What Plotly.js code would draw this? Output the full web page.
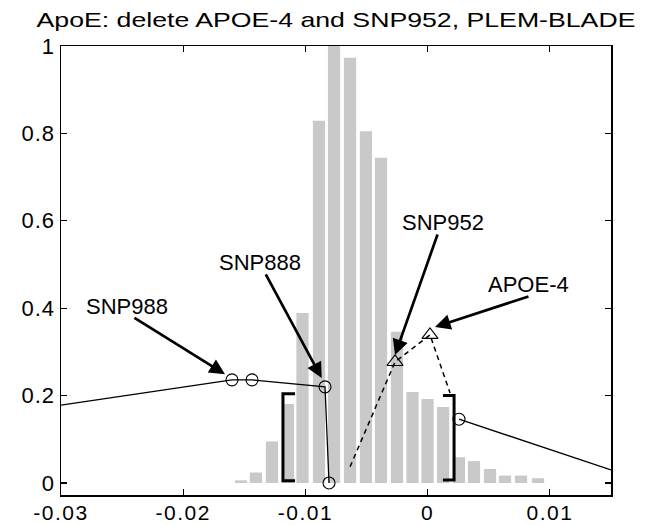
<!DOCTYPE html>
<html>
<head>
<meta charset="utf-8">
<script src="https://cdn.plot.ly/plotly-3.0.1.min.js"></script>
<style>
  html, body { margin: 0; padding: 0; background: #ffffff; }
  #chart { width: 646px; height: 525px; }
  #chart .gtitle {
    transform-box: fill-box;
    transform-origin: center;
    transform: scaleX(1.27);
  }
  #chart .xtick text { letter-spacing: 1.5px; }
  #chart .ytick text { letter-spacing: 1px; }
</style>
</head>
<body>
<div id="chart"></div>
<script>
// ---- data ----
const chartTitle = 'ApoE: delete APOE-4 and SNP952, PLEM-BLADE';

// histogram bins (centre, relative height)
const binCenters = [-0.01527, -0.01405, -0.01274, -0.01143, -0.01024, -0.00889, -0.00766, -0.00635,
                    -0.00505, -0.00382, -0.00251, -0.00124, -0.00001, 0.00126, 0.00256, 0.00379,
                    0.00510, 0.00633, 0.00764, 0.00903];
const binHeights = [0.006, 0.024, 0.095, 0.181, 0.389, 0.829, 1.0, 0.973,
                    0.805, 0.744, 0.346, 0.208, 0.192, 0.174, 0.059, 0.050,
                    0.032, 0.017, 0.017, 0.011];

// solid line on the left (SNP988 / SNP888 path)
const leftLineX = [-0.03, -0.01601, -0.01437, -0.00840, -0.00807];
const leftLineY = [0.178, 0.236, 0.236, 0.220, 0.0];
// circle markers on that line
const leftCircleX = [-0.01601, -0.01437, -0.00840, -0.00807];
const leftCircleY = [0.236, 0.236, 0.220, 0.0];

// solid line on the right
const rightLineX = [0.00256, 0.015];
const rightLineY = [0.146, 0.030];
const rightCircleX = [0.00256];
const rightCircleY = [0.146];

// dashed line (SNP952 / APOE-4 path)
const dashLineX = [-0.00635, -0.00267, 0.00019, 0.00183];
const dashLineY = [0.037, 0.277, 0.339, 0.206];
const triangleX = [-0.00267, 0.00019];
const triangleY = [0.277, 0.339];

// brackets
const leftBracketX = [-0.01085, -0.01184, -0.01184, -0.01085];
const leftBracketY = [0.204, 0.204, 0.005, 0.005];
const rightBracketX = [0.00125, 0.00216, 0.00216, 0.00125];
const rightBracketY = [0.200, 0.200, 0.007, 0.007];

// labels and arrows
const labelText = ['SNP988', 'SNP888', 'SNP952', 'APOE-4'];
const labelX = [-0.02464, -0.01368, 0.00126, 0.00825];
const labelY = [0.405, 0.505, 0.597, 0.455];
const arrowTailX = [-0.02411, -0.01331, 0.00085, 0.00837];
const arrowTailY = [0.380, 0.481, 0.572, 0.428];
const arrowHeadX = [-0.01658, -0.00867, -0.00267, 0.00060];
const arrowHeadY = [0.249, 0.240, 0.293, 0.357];

// axis ticks
const xTickVals = [-0.03, -0.02, -0.01, 0, 0.01];
const xTickText = ['-0.03', '-0.02', '-0.01', '0', '0.01'];
const yTickVals = [0, 0.2, 0.4, 0.6, 0.8, 1];
const yTickText = ['0', '0.2', '0.4', '0.6', '0.8', '1'];

// ---- build chart ----
const FONT = 'Liberation Sans, Arial, Helvetica, sans-serif';

const traces = [
  {
    type: 'bar', x: binCenters, y: binHeights, width: 0.001,
    marker: { color: '#c9c9c9', line: { width: 0 } },
    hoverinfo: 'skip'
  },
  {
    type: 'scatter', mode: 'lines', x: leftLineX, y: leftLineY,
    line: { color: '#000000', width: 1.3 }
  },
  {
    type: 'scatter', mode: 'markers', x: leftCircleX, y: leftCircleY,
    marker: { symbol: 'circle-open', size: 12, color: '#000000', line: { width: 1.1 } }
  },
  {
    type: 'scatter', mode: 'lines', x: rightLineX, y: rightLineY,
    line: { color: '#000000', width: 1.3 }
  },
  {
    type: 'scatter', mode: 'markers', x: rightCircleX, y: rightCircleY,
    marker: { symbol: 'circle-open', size: 12, color: '#000000', line: { width: 1.1 } }
  },
  {
    type: 'scatter', mode: 'lines', x: dashLineX, y: dashLineY,
    line: { color: '#000000', width: 1.5, dash: '5px,4px' }
  },
  {
    type: 'scatter', mode: 'markers', x: triangleX, y: triangleY,
    marker: { symbol: 'triangle-up-open', size: 14, color: '#000000', line: { width: 1.1 } }
  },
  {
    type: 'scatter', mode: 'lines', x: leftBracketX, y: leftBracketY,
    line: { color: '#000000', width: 3 }
  },
  {
    type: 'scatter', mode: 'lines', x: rightBracketX, y: rightBracketY,
    line: { color: '#000000', width: 3 }
  }
];

const annotations = [];
for (let i = 0; i < labelText.length; i++) {
  annotations.push({
    x: labelX[i], y: labelY[i], xref: 'x', yref: 'y',
    text: labelText[i], showarrow: false,
    font: { family: FONT, size: 22, color: '#000000' }
  });
  annotations.push({
    x: arrowHeadX[i], y: arrowHeadY[i], xref: 'x', yref: 'y',
    ax: arrowTailX[i], ay: arrowTailY[i], axref: 'x', ayref: 'y',
    text: '', showarrow: true, arrowhead: 2, arrowsize: 1.15, arrowwidth: 2.7,
    arrowcolor: '#000000', standoff: 0, startstandoff: 0
  });
}

const axisCommon = {
  showline: true, linecolor: '#000000', linewidth: 1.5, mirror: 'ticks',
  ticks: 'inside', ticklen: 6, tickwidth: 1.2, tickcolor: '#000000',
  showgrid: false, zeroline: false
};

const layout = {
  width: 646, height: 525,
  margin: { l: 61, r: 35, t: 46, b: 30, pad: 0 },
  paper_bgcolor: '#ffffff', plot_bgcolor: '#ffffff',
  showlegend: false,
  title: {
    text: chartTitle,
    font: { family: FONT, size: 21, color: '#000000' },
    x: 0.5, xref: 'paper', xanchor: 'center',
    y: 0.962, yref: 'container', yanchor: 'middle'
  },
  xaxis: Object.assign({}, axisCommon, {
    range: [-0.03, 0.015], tickmode: 'array', tickvals: xTickVals, ticktext: xTickText,
    tickfont: { family: FONT, size: 21, color: '#000000' }, ticklabelstandoff: -2
  }),
  yaxis: Object.assign({}, axisCommon, {
    range: [-0.0275, 1], tickmode: 'array', tickvals: yTickVals, ticktext: yTickText,
    tickfont: { family: FONT, size: 22, color: '#000000' }
  }),
  annotations: annotations
};

Plotly.newPlot('chart', traces, layout, { displayModeBar: false, staticPlot: true });
</script>
</body>
</html>
